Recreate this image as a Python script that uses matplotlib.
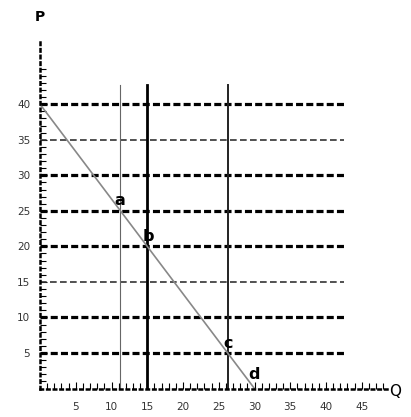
import numpy as np
import matplotlib.pyplot as plt

# demand curve end points (Q, P)
demand_q = [0, 30]
demand_p = [40, 0]

# horizontal price levels, heavy ones and light ones
heavy_levels = [40, 30, 25, 20, 10, 5]
light_levels = [35, 15]

# vertical quantity lines and their widths
vert_q = [11.25, 15, 26.25]
vert_lw = [0.8, 2.0, 1.4]
vert_col = ['#666666', 'black', '#222222']

# point labels
pt_names = ['a', 'b', 'c', 'd']
pt_q = [11.1, 15.1, 26.3, 29.9]
pt_p = [26.4, 21.4, 6.4, 2.0]

x_ticks = [5, 10, 15, 20, 25, 30, 35, 40, 45]
y_ticks = [5, 10, 15, 20, 25, 30, 35, 40]

fig = plt.figure(figsize=(4.11, 4.17), dpi=100)
ax = fig.add_axes([40 / 411, 1 - 388.6 / 417, 347.5 / 411, 347 / 417])
ax.set_xlim(0, 48.6)
ax.set_ylim(0, 48.8)

for p in heavy_levels:
    ax.plot([0, 42.5], [p, p], color='black', lw=2.3, ls=(0, (2.2, 1.0)))
for p in light_levels:
    ax.plot([0, 42.5], [p, p], color='#333333', lw=1.2, ls=(0, (4, 2)))

for q, lw, c in zip(vert_q, vert_lw, vert_col):
    ax.plot([q, q], [0, 42.7], color=c, lw=lw)

ax.plot(demand_q, demand_p, color='#888888', lw=1.2)

for name, q, p in zip(pt_names, pt_q, pt_p):
    ax.text(q, p, name, fontsize=11.5, ha='center', va='center',
            color='black', fontweight='semibold')

for s in ['top', 'right']:
    ax.spines[s].set_visible(False)
ax.spines['left'].set_linestyle(':')
ax.spines['left'].set_linewidth(1.8)
ax.spines['bottom'].set_linestyle(':')
ax.spines['bottom'].set_linewidth(1.8)

ax.set_xticks(x_ticks)
ax.set_yticks(y_ticks)
ax.set_xticks(np.arange(1, 49), minor=True)
ax.set_yticks(np.arange(1, 46), minor=True)
ax.tick_params(which='major', direction='in', length=5, width=0.8,
               labelsize=7.5, labelcolor='#333333')
ax.tick_params(axis='x', which='major', pad=10)
ax.tick_params(axis='y', which='major', pad=7)
ax.tick_params(which='minor', direction='in', length=4, width=0.8)

fig.text(40 / 411, 1 - 17 / 417, 'P', fontsize=10, ha='center', va='center',
         fontweight='semibold')
fig.text(395 / 411, 1 - 392 / 417, 'Q', fontsize=11, ha='center', va='center')

fig.savefig('out.png', dpi=100)
